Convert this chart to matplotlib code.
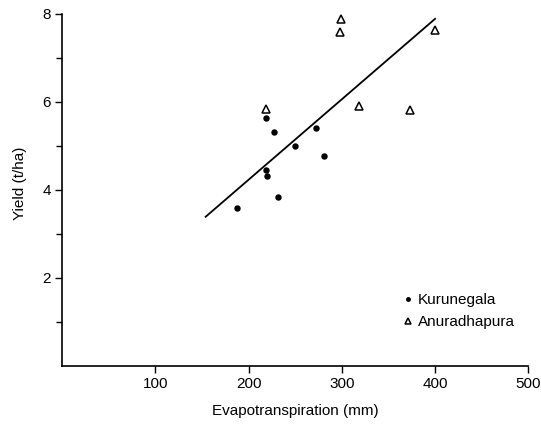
import numpy as np
import matplotlib.pyplot as plt
from matplotlib.ticker import FixedLocator

plt.rcParams["font.family"] = ["Liberation Sans", "DejaVu Sans"]

# Kurunegala (filled dots)
kur_et = [188, 219, 219, 220, 227, 232, 250, 272, 281]
kur_yield = [3.6, 5.63, 4.45, 4.32, 5.31, 3.84, 5.01, 5.41, 4.78]

# Anuradhapura (open triangles)
anu_et = [219, 298, 299, 318, 373, 400]
anu_yield = [5.83, 7.58, 7.88, 5.91, 5.82, 7.64]

# fitted line end points
line_et = [154, 400]
line_yield = [3.39, 7.89]

fig = plt.figure(figsize=(5.41, 4.24), dpi=100)
ax = fig.add_axes([0.1146, 0.137, 0.862, 0.830])

ax.plot(line_et, line_yield, color="black", lw=1.3)
ax.plot(kur_et, kur_yield, "o", color="black", ms=3.6, label="Kurunegala", clip_on=False)
ax.plot(anu_et, anu_yield, "^", mfc="white", mec="black", mew=1.1, ms=6,
        label="Anuradhapura", clip_on=False)

ax.set(xlim=(0, 500), ylim=(0, 8))
ax.set_xticks([100, 200, 300, 400, 500])
ax.set_yticks([2, 4, 6, 8])
ax.yaxis.set_minor_locator(FixedLocator([1, 3, 5, 7]))
ax.tick_params(axis="both", which="major", length=5, width=1, labelsize=11, pad=3)
ax.tick_params(axis="y", which="minor", length=4, width=1)
for s in ["top", "right"]:
    ax.spines[s].set_visible(False)
for s in ["left", "bottom"]:
    ax.spines[s].set_linewidth(1.2)

ax.set_xlabel("Evapotranspiration (mm)", fontsize=11, labelpad=9)
ax.set_ylabel("Yield (t/ha)", fontsize=11)
ax.yaxis.set_label_coords(-0.075, 0.52)

leg = ax.legend(loc="lower right", bbox_to_anchor=(1.0, 0.065), frameon=False,
                fontsize=11, handlelength=0.6, handletextpad=0.3, labelspacing=0.55,
                markerscale=0.7)

fig.savefig("out.png", dpi=100)
